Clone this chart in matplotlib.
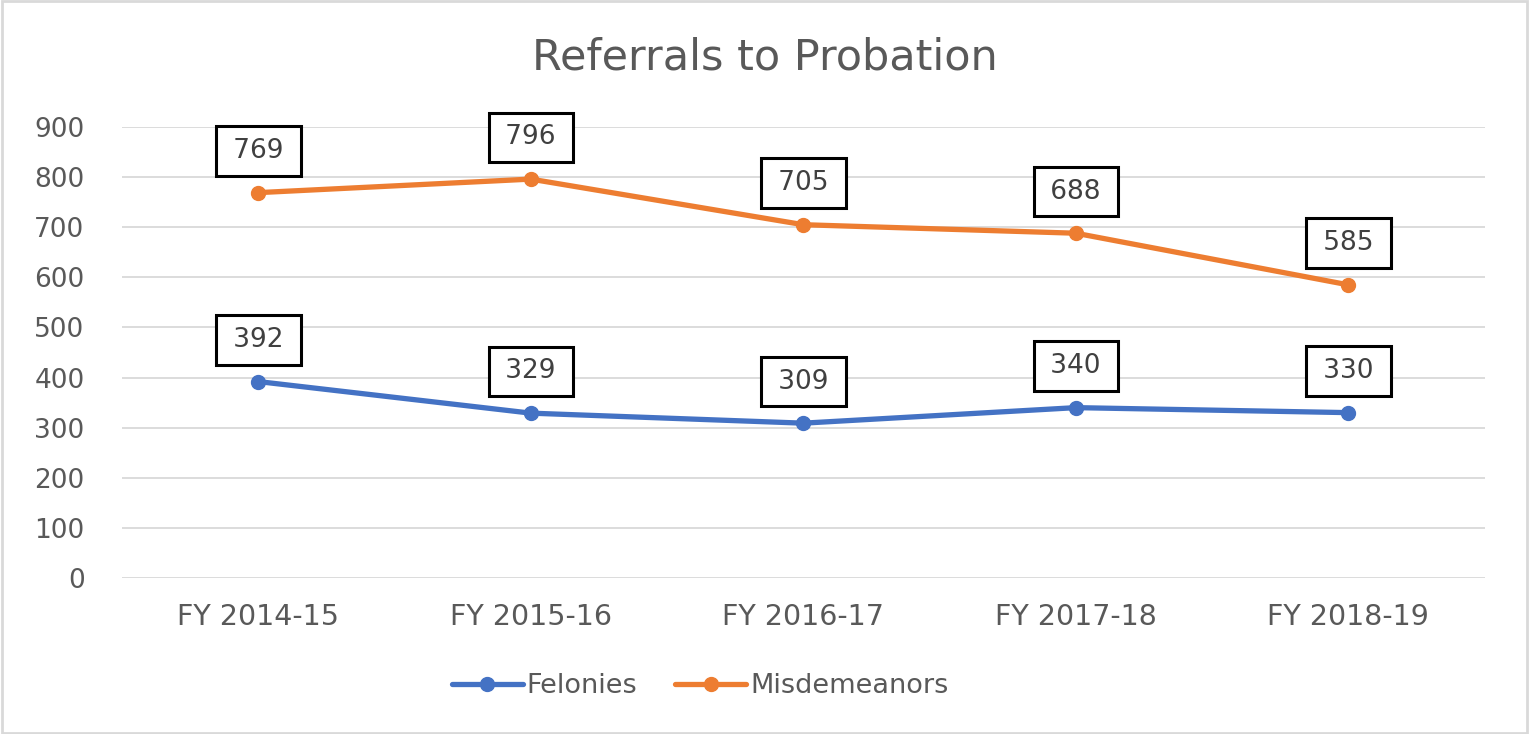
import numpy as np
import matplotlib
matplotlib.use("Agg")
import matplotlib.pyplot as plt
from matplotlib.patches import Rectangle

years = ["FY 2014-15", "FY 2015-16", "FY 2016-17", "FY 2017-18", "FY 2018-19"]
felonies = [392, 329, 309, 340, 330]
misdemeanors = [769, 796, 705, 688, 585]
y_ticks = [0, 100, 200, 300, 400, 500, 600, 700, 800, 900]

plt.rcParams['font.family'] = ['DejaVu Sans']
text_color = "#595959"


def main():
    fig = plt.figure(figsize=(15.29, 7.34), dpi=100)
    ax = fig.add_axes([0.0798, 0.2125, 0.8912, 0.6145])

    xs = np.arange(len(years))
    ax.plot(xs, felonies, color="#4472C4", lw=3.8, marker="o", ms=10,
            label="Felonies", solid_capstyle="round")
    ax.plot(xs, misdemeanors, color="#ED7D31", lw=3.8, marker="o", ms=10,
            label="Misdemeanors", solid_capstyle="round")

    # boxed data labels above each point
    for series in (felonies, misdemeanors):
        for x, v in zip(xs, series):
            ax.annotate("\u2009%d\u2009" % v, (x, v), xytext=(0, 30), textcoords="offset points",
                        ha="center", va="center", fontsize=19, color="#404040",
                        bbox=dict(boxstyle="square,pad=0.45", fc="white",
                                  ec="black", lw=2.2))

    ax.set_xlim(-0.5, len(years) - 0.5)
    ax.set_ylim(0, 900)
    ax.set_yticks(y_ticks)
    ax.set_xticks(xs)
    ax.set_xticklabels(years)
    ax.tick_params(axis="both", length=0, colors=text_color)
    ax.tick_params(axis="y", pad=27, labelsize=19)
    ax.tick_params(axis="x", pad=18, labelsize=20.5)
    ax.grid(axis="y", color="#D9D9D9", lw=1.3)
    ax.set_axisbelow(True)
    for s in ax.spines.values():
        s.set_visible(False)

    fig.text(0.5, 0.922, "Referrals to Probation", ha="center", va="center",
             fontsize=31, color=text_color)

    leg = fig.legend(loc="center", bbox_to_anchor=(0.458, 0.065), ncol=2,
                     frameon=False, fontsize=19.5, handlelength=2.6,
                     columnspacing=1.4, handletextpad=0.15)
    for t in leg.get_texts():
        t.set_color(text_color)

    fig.patches.append(Rectangle((0.001, 0.002), 0.998, 0.996, transform=fig.transFigure,
                                 fill=False, ec="#D9D9D9", lw=2))

    fig.savefig("out.png", dpi=100)


if __name__ == "__main__":
    main()
